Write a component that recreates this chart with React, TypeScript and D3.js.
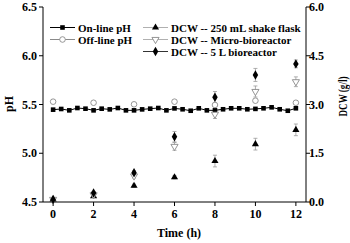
import React from "react";
import * as d3 from "d3";

const onlineTime = d3.range(0, 31).map((i) => +(i * 0.4).toFixed(1));
const onlinePH = [
  5.447, 5.454, 5.44, 5.464, 5.457, 5.44, 5.457, 5.45, 5.464, 5.44, 5.44,
  5.45, 5.457, 5.464, 5.44, 5.46, 5.451, 5.436, 5.461, 5.44, 5.44, 5.451,
  5.461, 5.461, 5.451, 5.455, 5.461, 5.471, 5.451, 5.436, 5.461,
];
const sampleTime = [0, 2, 4, 6, 8, 10, 12];
const offlinePH = [5.529, 5.518, 5.502, 5.529, 5.495, 5.539, 5.518];
const dcwShake = [0.08, 0.18, 0.5, 0.76, 1.26, 1.78, 2.22];
const dcwShakeErr = [0.03, 0.04, 0.05, 0.05, 0.18, 0.18, 0.18];
const dcwMicro = [0.08, 0.22, 0.8, 1.71, 2.7, 3.4, 3.7];
const dcwMicroErr = [0.03, 0.04, 0.06, 0.12, 0.13, 0.17, 0.15];
const dcw5L = [0.08, 0.28, 0.9, 2.01, 3.22, 3.91, 4.25];
const dcw5LErr = [0.03, 0.04, 0.06, 0.16, 0.18, 0.2, 0.12];
const xTicks = [0, 2, 4, 6, 8, 10, 12];
const phTicks = [4.5, 5.0, 5.5, 6.0, 6.5];
const dcwTicks = [0, 1.5, 3.0, 4.5, 6.0];

const FONT = "'Liberation Serif', 'Times New Roman', serif";

export default function App() {
  const x = d3.scaleLinear().domain([-0.5, 12.5]).range([43, 306]);
  const yPH = d3.scaleLinear().domain([4.5, 6.5]).range([202, 7]);
  const yD = d3.scaleLinear().domain([0, 6]).range([202, 7]);
  const line = d3
    .line<number>()
    .x((_, i) => x(onlineTime[i]))
    .y((d) => yPH(d));
  const tri = d3.symbol().type(d3.symbolTriangle).size(22)() as string;
  const dia = d3.symbol().type(d3.symbolDiamond).size(26)() as string;
  const gray = "#8a8a8a";
  const errGray = "#9a9a9a";

  const errBars = (vals: number[], errs: number[], key: string) =>
    vals.map((v, i) => {
      const cx = x(sampleTime[i]);
      const y1 = yD(v + errs[i]);
      const y2 = yD(v - errs[i]);
      return (
        <g key={key + i} stroke={errGray} strokeWidth={0.8}>
          <line x1={cx} x2={cx} y1={y1} y2={y2} />
          <line x1={cx - 2} x2={cx + 2} y1={y1} y2={y1} />
          <line x1={cx - 2} x2={cx + 2} y1={y2} y2={y2} />
        </g>
      );
    });

  const legendLeft = [
    { label: "On-line pH", kind: "sq", col: "#000" },
    { label: "Off-line pH", kind: "circ", col: gray },
  ];
  const legendRight = [
    { label: "DCW -- 250 mL shake flask", kind: "tri", col: "#b0b0b0" },
    { label: "DCW -- Micro-bioreactor", kind: "tdown", col: "#b0b0b0" },
    { label: "DCW -- 5 L bioreactor", kind: "dia", col: "#333" },
  ];
  const marker = (kind: string, cx: number, cy: number, key: string) => {
    if (kind === "sq")
      return <rect key={key} x={cx - 2.3} y={cy - 2.3} width={4.6} height={4.6} fill="#000" />;
    if (kind === "circ")
      return <circle key={key} cx={cx} cy={cy} r={2.8} fill="#fff" stroke={gray} strokeWidth={0.9} />;
    if (kind === "tri")
      return <path key={key} d={tri} transform={`translate(${cx},${cy})`} fill="#000" />;
    if (kind === "tdown")
      return (
        <path key={key} d={tri} transform={`translate(${cx},${cy}) rotate(180)`} fill="#fff" stroke={gray} strokeWidth={0.9} />
      );
    return <path key={key} d={dia} transform={`translate(${cx},${cy})`} fill="#000" />;
  };

  return (
    <svg
      width={350}
      height={243}
      style={{ position: "fixed", left: 0, top: 0, background: "#fff" }}
      fontFamily={FONT}
      fontWeight="bold"
    >
      {/* axes */}
      <g stroke="#000" strokeWidth={1} fill="none">
        <line x1={43} x2={43} y1={7} y2={202} />
        <line x1={306} x2={306} y1={7} y2={202} />
        <line x1={43} x2={306} y1={202} y2={202} />
        {phTicks.map((t) => (
          <line key={"pt" + t} x1={39} x2={43} y1={yPH(t)} y2={yPH(t)} />
        ))}
        {dcwTicks.map((t) => (
          <line key={"dt" + t} x1={306} x2={310} y1={yD(t)} y2={yD(t)} />
        ))}
        {xTicks.map((t) => (
          <line key={"xt" + t} x1={x(t)} x2={x(t)} y1={202} y2={206} />
        ))}
      </g>
      <g fontSize={12} fill="#000">
        {phTicks.map((t) => (
          <text key={"pl" + t} x={37} y={yPH(t) + 4} textAnchor="end">
            {d3.format(".1f")(t)}
          </text>
        ))}
        {dcwTicks.map((t) => (
          <text key={"dl" + t} x={309} y={yD(t) + 4} textAnchor="start">
            {d3.format(".1f")(t)}
          </text>
        ))}
        {xTicks.map((t) => (
          <text key={"xl" + t} x={x(t)} y={218} textAnchor="middle">
            {t}
          </text>
        ))}
        <text x={179} y={237} textAnchor="middle">
          Time (h)
        </text>
        <text transform="translate(13,104) rotate(-90)" textAnchor="middle">
          pH
        </text>
        <text
          transform="translate(347,96.5) rotate(-90)"
          textAnchor="middle"
          textLength={40}
          lengthAdjust="spacingAndGlyphs"
        >
          DCW (g/l)
        </text>
      </g>

      {/* error bars */}
      {errBars(dcwShake, dcwShakeErr, "es")}
      {errBars(dcwMicro, dcwMicroErr, "em")}
      {errBars(dcw5L, dcw5LErr, "e5")}

      {/* online pH */}
      <path d={line(onlinePH) as string} fill="none" stroke="#000" strokeWidth={1} />
      {onlinePH.map((v, i) => marker("sq", x(onlineTime[i]), yPH(v), "on" + i))}
      {offlinePH.map((v, i) => marker("circ", x(sampleTime[i]), yPH(v), "off" + i))}
      {dcwShake.map((v, i) => marker("tri", x(sampleTime[i]), yD(v), "s" + i))}
      {dcwMicro.map((v, i) => marker("tdown", x(sampleTime[i]), yD(v), "m" + i))}
      {dcw5L.map((v, i) => marker("dia", x(sampleTime[i]), yD(v), "d" + i))}

      {/* legend */}
      <g fontSize={11} fill="#000">
        {legendLeft.map((l, i) => {
          const cy = 27.5 + i * 12;
          return (
            <g key={l.label}>
              <line x1={50} x2={75} y1={cy} y2={cy} stroke={l.col} strokeWidth={1} />
              {marker(l.kind, 62.5, cy, "lm" + i)}
              <text x={78} y={cy + 4}>{l.label}</text>
            </g>
          );
        })}
        {legendRight.map((l, i) => {
          const cy = 27.5 + i * 12;
          return (
            <g key={l.label}>
              <line x1={143} x2={168} y1={cy} y2={cy} stroke={l.col} strokeWidth={1} />
              {marker(l.kind, 155.5, cy, "rm" + i)}
              <text x={171} y={cy + 4}>{l.label}</text>
            </g>
          );
        })}
      </g>
    </svg>
  );
}
